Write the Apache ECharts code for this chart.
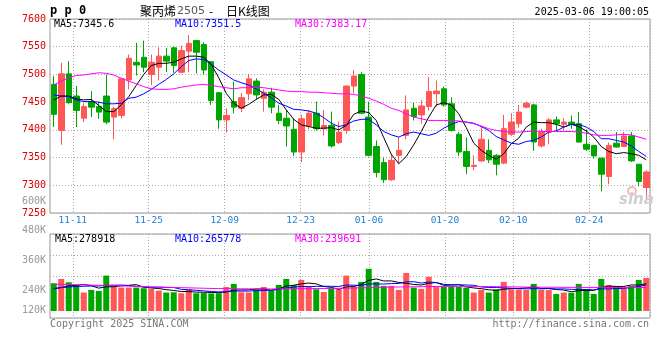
<!DOCTYPE html>
<html><head><meta charset="utf-8">
<script src="https://cdn.jsdelivr.net/npm/echarts@6/dist/echarts.min.js"></script>
<style>html,body{margin:0;padding:0;background:#fff;}#c{width:660px;height:360px;}</style>
</head><body><div id="c"></div>
<script>
// ---- data ----
const dates = ['11-06','11-07','11-08','11-11','11-12','11-13','11-14','11-15','11-18','11-19','11-20','11-21','11-22','11-25','11-26','11-27','11-28','11-29',
'12-02','12-03','12-04','12-05','12-06','12-09','12-10','12-11','12-12','12-13','12-16','12-17','12-18','12-19','12-20','12-23','12-24','12-25','12-26','12-27','12-30','12-31',
'01-02','01-03','01-06','01-07','01-08','01-09','01-10','01-13','01-14','01-15','01-16','01-17','01-20','01-21','01-22','01-23','01-24','01-27',
'02-05','02-06','02-07','02-10','02-11','02-12','02-13','02-14','02-17','02-18','02-19','02-20','02-21','02-24','02-25','02-26','02-27','02-28',
'03-03','03-04','03-05','03-06'];
const xTickLabels = ['11-11','11-25','12-09','12-23','01-06','01-20','02-10','02-24'];
const priceOpen = [7482,7399,7501,7461,7421,7451,7442,7461,7423,7426, 7490,7522,7531,7500,7513,7533,7548,7504,7542,7561, 7554,7523,7467,7418,7451,7439,7465,7488,7457,7468, 7430,7421,7401,7360,7407,7430,7402,7408,7377,7399, 7479,7500,7423,7370,7341,7310,7354,7390,7439,7427, 7442,7465,7474,7447,7392,7361,7334,7344,7363,7354, 7340,7392,7411,7441,7445,7371,7396,7418,7410,7414, 7411,7374,7372,7349,7316,7376,7370,7389,7338,7296];
const priceClose = [7428,7501,7449,7435,7442,7441,7432,7414,7438,7492, 7529,7517,7513,7522,7533,7524,7516,7543,7556,7540, 7508,7453,7418,7426,7441,7458,7492,7463,7468,7441, 7417,7407,7360,7420,7430,7402,7408,7371,7396,7479, 7497,7430,7354,7323,7310,7345,7363,7436,7424,7443, 7469,7470,7445,7399,7360,7334,7336,7383,7346,7338, 7402,7414,7432,7448,7378,7396,7418,7411,7414,7410, 7378,7365,7353,7320,7372,7369,7389,7344,7307,7324];
const priceLow = [7405,7373,7447,7405,7414,7423,7420,7410,7383,7421, 7473,7498,7504,7481,7489,7504,7503,7502,7504,7502, 7500,7445,7402,7395,7430,7432,7454,7455,7433,7430, 7410,7370,7353,7342,7401,7399,7390,7368,7374,7393, 7466,7428,7352,7314,7304,7308,7339,7383,7417,7411, 7435,7442,7442,7397,7353,7320,7327,7342,7340,7318, 7338,7389,7404,7439,7362,7368,7374,7398,7399,7402, 7377,7362,7348,7289,7302,7368,7369,7342,7298,7275];
const priceHigh = [7497,7521,7524,7479,7448,7470,7451,7500,7442,7494, 7536,7557,7561,7536,7549,7548,7550,7552,7571,7562, 7558,7524,7468,7439,7487,7467,7501,7493,7473,7476, 7445,7436,7421,7427,7436,7451,7436,7433,7415,7480, 7508,7504,7451,7381,7350,7356,7387,7462,7449,7454, 7495,7489,7478,7459,7396,7386,7354,7407,7383,7356, 7427,7430,7445,7451,7447,7402,7421,7424,7421,7426, 7432,7401,7373,7350,7377,7396,7396,7396,7338,7327];
const ma5 = [7454,7461,7461,7456,7454,7455,7444,7433,7433,7445, 7460,7480,7500,7516,7520,7520,7522,7528,7533,7533, 7531,7518,7494,7466,7448,7439,7446,7455,7463,7464, 7455,7436,7419,7409,7406,7403,7403,7404,7400,7408, 7428,7434,7431,7417,7386,7356,7339,7352,7373,7397, 7423,7445,7449,7445,7429,7404,7376,7363,7354,7347, 7357,7375,7385,7405,7414,7413,7413,7410,7405,7410, 7406,7398,7387,7370,7361,7357,7359,7357,7354,7346];
const ma10 = [7463,7461,7460,7454,7451,7451,7450,7447,7447,7448, 7457,7459,7465,7473,7482,7491,7501,7514,7525,7528, 7527,7518,7508,7499,7490,7485,7481,7474,7466,7458, 7448,7443,7437,7436,7434,7430,7422,7412,7406,7409, 7416,7419,7419,7409,7397,7391,7387,7393,7396,7393, 7390,7394,7403,7410,7415,7414,7412,7406,7399,7388, 7382,7376,7374,7379,7381,7387,7396,7398,7405,7410, 7410,7405,7397,7384,7384,7381,7378,7371,7361,7352];
const ma30 = [7481,7488,7494,7498,7499,7501,7503,7502,7499,7493, 7488,7483,7478,7474,7473,7473,7474,7477,7479,7481, 7482,7480,7478,7476,7474,7476,7476,7477,7476,7474, 7472,7470,7469,7469,7468,7468,7467,7466,7465,7465, 7464,7461,7457,7452,7446,7439,7435,7429,7423,7420, 7417,7417,7417,7417,7416,7414,7411,7407,7402,7399, 7397,7396,7396,7397,7398,7397,7397,7397,7397,7397, 7396,7394,7391,7390,7390,7391,7392,7391,7387,7383];
const volume = [283000,327000,293000,266000,188000,215000,205000,361000,266000,239000, 239000,239000,232000,225000,208000,188000,191000,181000,222000,181000, 183000,179000,182000,245000,276000,191000,188000,222000,245000,208000, 266000,327000,266000,317000,249000,222000,194000,225000,222000,361000, 249000,297000,430000,297000,256000,256000,215000,388000,239000,225000, 348000,249000,249000,252000,246000,239000,188000,215000,188000,222000, 297000,222000,220000,215000,276000,215000,213000,174000,188000,186000, 276000,225000,174000,327000,266000,256000,225000,256000,317000,337000];
const volMa5 = [225000,240000,255000,262000,271000,258000,233000,247000,247000,257000, 262000,269000,243000,235000,229000,218000,209000,199000,198000,193000, 191000,189000,189000,194000,213000,215000,216000,224000,224000,211000, 226000,254000,262000,277000,285000,276000,250000,241000,222000,245000, 250000,271000,312000,327000,306000,307000,291000,282000,271000,265000, 283000,290000,262000,264000,269000,247000,235000,228000,216000,210000, 222000,229000,230000,236000,246000,230000,229000,219000,214000,196000, 208000,210000,210000,238000,254000,250000,250000,266000,264000,278000];
const volMa10 = [230000,238000,245000,250000,252000,255000,255000,262000,263000,264000, 260000,251000,245000,241000,243000,240000,239000,221000,216000,211000, 205000,199000,194000,196000,203000,203000,203000,207000,209000,212000, 220000,235000,243000,251000,248000,251000,252000,252000,250000,265000, 263000,260000,277000,275000,275000,279000,281000,297000,299000,285000, 295000,290000,272000,267000,267000,265000,262000,245000,240000,240000, 235000,232000,229000,226000,228000,226000,229000,225000,225000,221000, 219000,219000,215000,226000,225000,229000,230000,238000,251000,266000];
const volMa30 = [272000,271000,270000,268000,266000,264000,262000,260000,258000,256000, 253000,251000,248000,246000,244000,242000,240000,238000,236000,234000, 232000,230000,229000,228000,227000,226000,226000,225000,225000,225000, 226000,226000,227000,228000,228000,229000,229000,230000,231000,232000, 234000,236000,238000,240000,242000,244000,245000,246000,247000,248000, 249000,250000,250000,251000,251000,251000,250000,250000,249000,248000, 247000,246000,245000,244000,243000,243000,242000,242000,241000,241000, 241000,240000,240000,240000,240000,240000,240000,240000,240000,240000];
const priceHeader = ['MA5:7345.6','MA10:7351.5','MA30:7383.17'];
const volHeader = ['MA5:278918','MA10:265778','MA30:239691'];

// ---- styles ----
const UP = '#ff5656', DOWN = '#00a600';
const MONO = '"DejaVu Sans Mono", "Liberation Mono", monospace';
const CJK = '"Noto Sans CJK SC", sans-serif';
const GRIDC = '#aaaaaa';
const dotted = {type:[1,2], color:GRIDC, width:1};
// Sina's date scale uses one slot fewer than the candles
const labelAxisDates = dates.slice(0, dates.length - 1);
const isTick = (i, v) => xTickLabels.indexOf(v) >= 0;

const candleData = dates.map((d, i) => [priceOpen[i], priceClose[i], priceLow[i], priceHigh[i]]);
const volData = dates.map((d, i) => ({value: volume[i], itemStyle: {color: priceClose[i] >= priceOpen[i] ? UP : DOWN}}));

const chart = echarts.init(document.getElementById('c'), null, {renderer:'canvas'});
const txt = (x, y, text, fill, font, align) => ({type:'text', x, y, silent:true, z:100,
  style:{text, fill, font: font || ('10px ' + MONO), align: align || 'left', verticalAlign:'middle'}});

chart.setOption({
  animation:false,
  backgroundColor:'#fff',
  grid:[
    {left:50, right:10, top:19, height:194, show:true, borderColor:'#999', borderWidth:1},
    {left:50, right:10, top:234, bottom:49, show:false},
    {left:50, right:10, top:234, bottom:42, show:true, borderColor:'#999', borderWidth:1},
    {left:50, right:10, top:201, bottom:40, show:false}
  ],
  xAxis:[
    {gridIndex:0, type:'category', position:'top', data:dates, boundaryGap:true, axisLine:{show:false}, axisTick:{show:false}, axisLabel:{show:false}, splitLine:{show:false}},
    {gridIndex:0, type:'category', position:'bottom', data:labelAxisDates, boundaryGap:true, axisLine:{show:false}, axisTick:{show:false},
      axisLabel:{interval:isTick, color:'#1e7fd2', fontFamily:MONO, fontSize:9.5, margin:3, padding:[0,7.6,0,0]},
      splitLine:{show:true, interval:isTick, lineStyle:dotted}},
    {gridIndex:1, type:'category', data:dates, boundaryGap:true, show:false},
    {gridIndex:2, type:'category', data:labelAxisDates, boundaryGap:true, axisLine:{show:false}, axisTick:{show:false}, axisLabel:{show:false},
      splitLine:{show:true, interval:isTick, lineStyle:dotted}},
    {gridIndex:3, type:'category', data:dates, show:false}
  ],
  yAxis:[
    {gridIndex:0, type:'value', min:7250, max:7600, interval:50, axisLine:{show:false}, axisTick:{show:false},
      axisLabel:{color:'#dd0000', fontFamily:MONO, fontSize:10, margin:4, formatter:(v) => String(v)}, splitLine:{show:true, lineStyle:dotted}},
    {gridIndex:1, type:'value', min:0, max:785000, show:false},
    {gridIndex:2, type:'value', min:0, max:4, interval:1, axisLine:{show:false}, axisTick:{show:false}, axisLabel:{show:false}, splitLine:{show:true, lineStyle:dotted}},
    {gridIndex:3, type:'value', min:120000, max:600000, interval:120000, axisLine:{show:false}, axisTick:{show:false}, splitLine:{show:false},
      axisLabel:{margin:4, color:'#999', fontFamily:MONO, fontSize:10,
        formatter:(v) => v === 120000 ? '{lift|' + (v/1000) + 'K}' : (v/1000) + 'K',
        rich:{lift:{color:'#999', fontFamily:MONO, fontSize:10, padding:[0,0,20,0]}}}}
  ],
  series:[
    {type:'candlestick', xAxisIndex:0, yAxisIndex:0, data:candleData, barWidth:6,
      itemStyle:{color:UP, color0:DOWN, borderColor:UP, borderColor0:DOWN, borderWidth:1}},
    {type:'line', xAxisIndex:0, yAxisIndex:0, data:ma5, symbol:'none', lineStyle:{color:'#000', width:1}},
    {type:'line', xAxisIndex:0, yAxisIndex:0, data:ma10, symbol:'none', lineStyle:{color:'#0000ff', width:1}},
    {type:'line', xAxisIndex:0, yAxisIndex:0, data:ma30, symbol:'none', lineStyle:{color:'#ff00ff', width:1}},
    {type:'bar', xAxisIndex:2, yAxisIndex:1, data:volData, barWidth:6},
    {type:'line', xAxisIndex:2, yAxisIndex:1, data:volMa5, symbol:'none', lineStyle:{color:'#000', width:1}},
    {type:'line', xAxisIndex:2, yAxisIndex:1, data:volMa10, symbol:'none', lineStyle:{color:'#0000ff', width:1}},
    {type:'line', xAxisIndex:2, yAxisIndex:1, data:volMa30, symbol:'none', lineStyle:{color:'#ff00ff', width:1}}
  ],
  graphic:[
    txt(50, 11, 'p p 0', '#000', 'bold 12px ' + MONO),
    txt(140, 11, '聚丙烯', '#000', '12px ' + CJK),
    txt(177, 11, '2505', '#555', '11px "DejaVu Sans", sans-serif'),
    txt(209, 11, '-', '#000', '12px ' + CJK),
    txt(226, 11, '日K线图', '#000', '12px ' + CJK),
    txt(649, 12, '2025-03-06 19:00:05', '#000', null, 'right'),
    txt(54, 24, priceHeader[0], '#000'),
    txt(175, 24, priceHeader[1], '#0000ff'),
    txt(295, 24, priceHeader[2], '#ff00ff'),
    txt(55, 239, volHeader[0], '#000'),
    txt(175, 239, volHeader[1], '#0000ff'),
    txt(295, 239, volHeader[2], '#ff00ff'),
    txt(50, 324, 'Copyright 2025 SINA.COM', '#777'),
    txt(649, 324, 'http://finance.sina.com.cn', '#777', null, 'right'),
    {type:'circle', silent:true, z:5, shape:{cx:632, cy:191, r:4}, style:{fill:'none', stroke:'#f2b8b8', lineWidth:2}},
    txt(619, 200, 'sina', '#cfcfcf', 'italic bold 15px "DejaVu Sans", sans-serif')
  ]
});
</script></body></html>
